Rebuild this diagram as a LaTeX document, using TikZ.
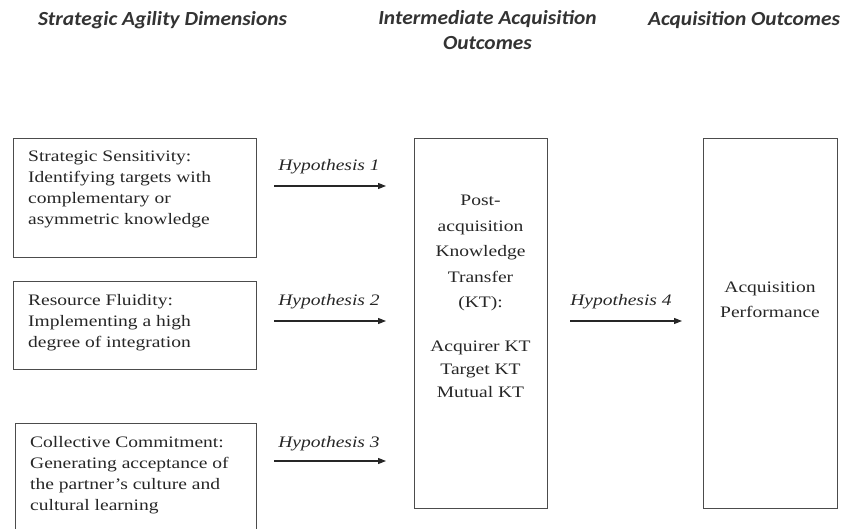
\documentclass[tikz,border=0pt]{standalone}
\usepackage{fontspec}
\setmainfont{Liberation Serif}
\newfontfamily\hdrfont{Carlito}
\usetikzlibrary{arrows.meta}
\newcommand{\wide}[1]{\scalebox{1.22}[1]{#1}}
\newcommand{\hwide}[1]{\scalebox{1.07}[1]{#1}}
\begin{document}
\begin{tikzpicture}[x=1pt,y=-1pt,
  box/.style={draw=black!70, line width=1.1pt, inner sep=0pt, anchor=north west},
  body/.style={font=\fontsize{16}{21}\selectfont, text=black!85, inner sep=0pt, anchor=base west},
  ctext/.style={font=\fontsize{16}{21}\selectfont, text=black!85, inner sep=0pt, anchor=base},
  hyp/.style={font=\fontsize{16}{21}\selectfont\itshape, text=black!85, inner sep=0pt, anchor=base},
  hdr/.style={font=\hdrfont\bfseries\itshape\fontsize{20}{25}\selectfont, text=black!80, inner sep=0pt, anchor=base},
  link/.style={-{Triangle[length=8pt,width=6pt]}, line width=1.1pt, draw=black!85}
]
\useasboundingbox (0,0) rectangle (844,529);

% headers
\node[hdr] (g1) at (162.5,26) {\hwide{Strategic Agility Dimensions}};
\node[hdr] (g2) at (487.5,25) {\hwide{\begin{tabular}[t]{@{}c@{}}Intermediate Acquisition\\ Outcomes\end{tabular}}};
\node[hdr] (g3) at (744,26) {\hwide{Acquisition Outcomes}};

% left boxes
\node[box, minimum width=243pt, minimum height=119pt] (b1) at (13,138) {};
\node[box, minimum width=243pt, minimum height=88pt] (b2) at (13,281) {};
\node[box, minimum width=241pt, minimum height=130pt] (b3) at (15,423) {};

\node[body] (t1) at (28,162) {\wide{\begin{tabular}[t]{@{}l@{}}Strategic Sensitivity:\\ Identifying targets with\\ complementary or\\ asymmetric knowledge\end{tabular}}};
\node[body] (t2) at (28,306) {\wide{\begin{tabular}[t]{@{}l@{}}Resource Fluidity:\\ Implementing a high\\ degree of integration\end{tabular}}};
\node[body] (t3) at (30,447) {\wide{\begin{tabular}[t]{@{}l@{}}Collective Commitment:\\ Generating acceptance of\\ the partner’s culture and\\ cultural learning\end{tabular}}};

% right boxes
\node[box, minimum width=133pt, minimum height=370pt] (kt) at (414,138) {};
\node[box, minimum width=134pt, minimum height=370pt] (ap) at (703,138) {};

\node[ctext] (ktt) at (480.5,206) {\wide{\begin{tabular}[t]{@{}c@{}}Post-\\[4.5pt] acquisition\\[4.5pt] Knowledge\\[4.5pt] Transfer\\[4.5pt] (KT):\\[2pt] \\ Acquirer KT\\[2pt] Target KT\\[2pt] Mutual KT\end{tabular}}};
\node[ctext] (apt) at (770,293) {\wide{\begin{tabular}[t]{@{}c@{}}Acquisition\\[4pt] Performance\end{tabular}}};

% hypotheses
\node[hyp] (h1) at (329,171) {\wide{Hypothesis 1}};
\node[hyp] (h2) at (329,306) {\wide{Hypothesis 2}};
\node[hyp] (h3) at (329,447) {\wide{Hypothesis 3}};
\node[hyp] (h4) at (621,306) {\wide{Hypothesis 4}};

\coordinate (a1s) at (274,186); \coordinate (a1e) at (386,186);
\coordinate (a2s) at (274,321); \coordinate (a2e) at (386,321);
\coordinate (a3s) at (274,461); \coordinate (a3e) at (386,461);
\coordinate (a4s) at (570,321); \coordinate (a4e) at (682,321);
\draw[link] (a1s) -- (a1e);
\draw[link] (a2s) -- (a2e);
\draw[link] (a3s) -- (a3e);
\draw[link] (a4s) -- (a4e);
\end{tikzpicture}
\end{document}
